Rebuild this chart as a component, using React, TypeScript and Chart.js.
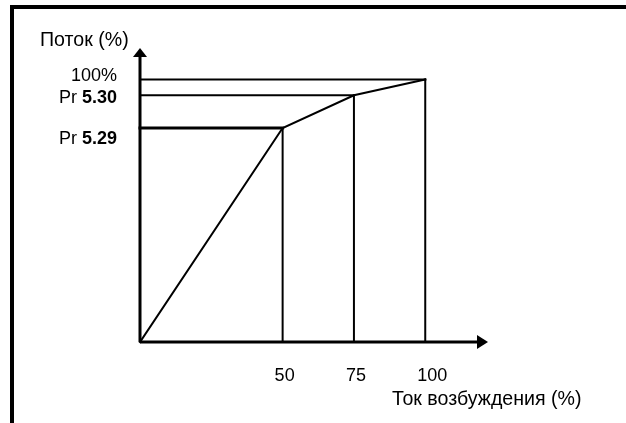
import React, { useEffect, useRef } from 'react';
import { Chart, registerables } from 'chart.js';

Chart.register(...registerables);

// ---- data ----
const fieldCurrent = [0, 50, 75, 100]; // Ток возбуждения (%)
const flux = [0, 81.5, 94, 100]; // Поток (%)
const xTickValues = [50, 75, 100];
const xTickLabels = ['50', '75', '100'];
const yTickValues = [100, 94, 81.5];
const yTickNormal = ['100%', 'Pr ', 'Pr '];
const yTickBold = ['', '5.30', '5.29'];
const yTitle = 'Поток (%)';
const xTitle = 'Ток возбуждения (%)';
const xMax = 122;
const yMax = 112;

// label layout (vertical nudges of the y tick labels, px)
const yLabelNudge = [-3.5, 3, 11];

const FONT = '"Liberation Sans", Arial, sans-serif';

const diagramPlugin = {
  id: 'diagram',
  afterDatasetsDraw(chart: any) {
    const ctx = chart.ctx as CanvasRenderingContext2D;
    const xs = chart.scales.x;
    const ys = chart.scales.y;
    const x0 = xs.getPixelForValue(0);
    const y0 = ys.getPixelForValue(0);
    const xEnd = xs.getPixelForValue(xMax);
    const yEnd = ys.getPixelForValue(yMax);
    ctx.save();
    ctx.fillStyle = '#000';
    ctx.strokeStyle = '#000';

    // page frame
    ctx.fillRect(10, 5, 616, 4);
    ctx.fillRect(10, 5, 4, 418);

    // axes
    ctx.lineWidth = 3;
    ctx.beginPath();
    ctx.moveTo(x0, y0);
    ctx.lineTo(xEnd - 8, y0);
    ctx.moveTo(x0, y0);
    ctx.lineTo(x0, yEnd + 6);
    ctx.stroke();
    // arrow heads
    ctx.beginPath();
    ctx.moveTo(xEnd, y0);
    ctx.lineTo(xEnd - 11, y0 - 7);
    ctx.lineTo(xEnd - 11, y0 + 7);
    ctx.closePath();
    ctx.fill();
    ctx.beginPath();
    ctx.moveTo(x0, yEnd);
    ctx.lineTo(x0 - 7, yEnd + 9);
    ctx.lineTo(x0 + 7, yEnd + 9);
    ctx.closePath();
    ctx.fill();

    // y tick labels
    ctx.textBaseline = 'middle';
    const rightEdge = x0 - 23;
    yTickValues.forEach((v, i) => {
      const py = ys.getPixelForValue(v) + yLabelNudge[i];
      ctx.font = `bold 18px ${FONT}`;
      const bw = yTickBold[i] ? ctx.measureText(yTickBold[i]).width : 0;
      ctx.textAlign = 'right';
      if (yTickBold[i]) ctx.fillText(yTickBold[i], rightEdge, py);
      ctx.font = `18px ${FONT}`;
      ctx.fillText(yTickNormal[i], rightEdge - bw, py);
    });

    // x tick labels
    ctx.font = `18px ${FONT}`;
    ctx.textAlign = 'left';
    ctx.textBaseline = 'alphabetic';
    xTickValues.forEach((v, i) => {
      const px = xs.getPixelForValue(v);
      ctx.fillText(xTickLabels[i], px - 8, y0 + 39);
    });

    // titles
    ctx.font = `19.6px ${FONT}`;
    ctx.textAlign = 'left';
    ctx.fillText(yTitle, 40, yEnd - 2);
    ctx.fillText(xTitle, 392, y0 + 63);
    ctx.restore();
  },
};

export default function App() {
  const ref = useRef<HTMLCanvasElement | null>(null);
  useEffect(() => {
    document.body.style.margin = '0';
    const canvas = ref.current;
    if (!canvas) return;
    const pt = (i: number) => ({ x: fieldCurrent[i], y: flux[i] });
    const datasets: any[] = [
      {
        data: fieldCurrent.map((_, i) => pt(i)),
        borderWidth: 2,
      },
    ];
    for (let i = 1; i < fieldCurrent.length; i++) {
      datasets.push({
        data: [{ x: 0, y: flux[i] }, pt(i)],
        borderWidth: i === 1 ? 3 : 2,
      });
      datasets.push({
        data: [{ x: fieldCurrent[i], y: 0 }, pt(i)],
        borderWidth: 2,
      });
    }
    datasets.forEach((d) => {
      d.showLine = true;
      d.borderColor = '#000';
      d.backgroundColor = '#000';
      d.pointRadius = 0;
      d.clip = false;
      d.borderCapStyle = 'square';
      d.borderJoinStyle = 'miter';
    });
    const chart = new Chart(canvas, {
      type: 'scatter',
      data: { datasets },
      options: {
        animation: false,
        responsive: false,
        events: [],
        layout: { padding: { left: 140, right: 138, top: 48, bottom: 81 } },
        plugins: { legend: { display: false }, tooltip: { enabled: false } },
        scales: {
          x: { type: 'linear', min: 0, max: xMax, display: false },
          y: { type: 'linear', min: 0, max: yMax, display: false },
        },
      },
      plugins: [diagramPlugin],
    });
    return () => chart.destroy();
  }, []);
  return (
    <canvas
      ref={ref}
      width={626}
      height={423}
      style={{ display: 'block', width: 626, height: 423, background: '#fff' }}
    />
  );
}
